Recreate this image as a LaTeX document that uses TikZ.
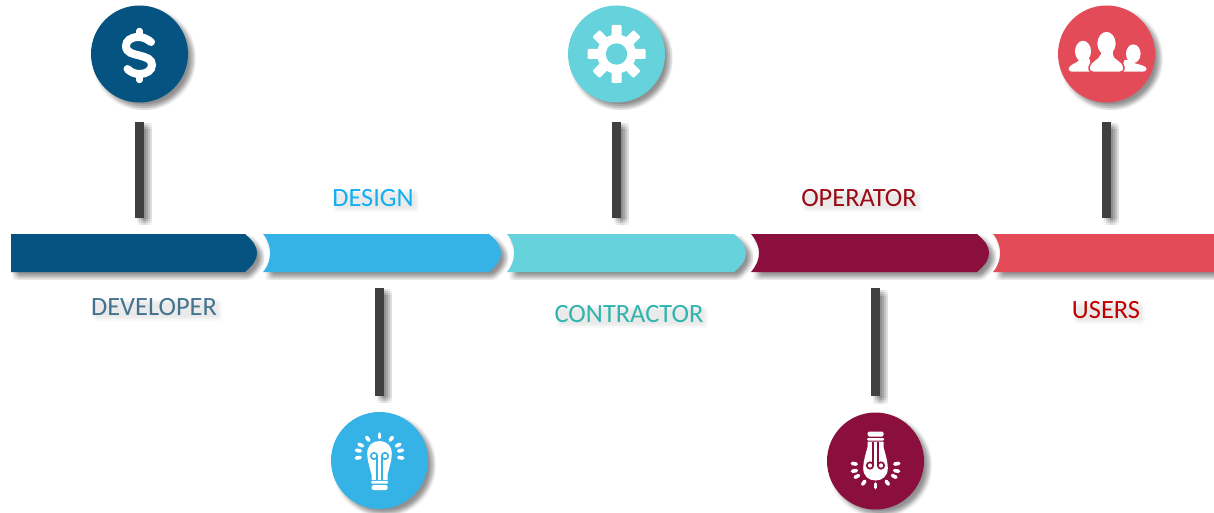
\documentclass[tikz,border=0pt]{standalone}
\usepackage{fontspec}
\setmainfont{Carlito}
\usetikzlibrary{positioning}
\definecolor{devblue}{HTML}{055380}
\definecolor{designblue}{HTML}{35B2E6}
\definecolor{contrteal}{HTML}{65D2DC}
\definecolor{opermaroon}{HTML}{8B0F3C}
\definecolor{usersred}{HTML}{E34B59}
\definecolor{stemgrey}{HTML}{404040}
\definecolor{devtext}{HTML}{44738F}
\definecolor{designtext}{HTML}{12B0F0}
\definecolor{contrtext}{HTML}{2FB5AE}
\definecolor{opertext}{HTML}{9A0A14}
\definecolor{userstext}{HTML}{C00000}
\tikzset{
  shadecopy/.style 2 args={preaction={fill=black,opacity=0.035,transform canvas={shift={(#1pt,-#2pt)}}}},
  shaderow/.style={shadecopy={1.5}{#1},shadecopy={3.5}{#1},shadecopy={5.5}{#1},shadecopy={7.5}{#1}},
  softshadow/.style={shaderow=1.5,shaderow=3.5,shaderow=5.5,shaderow=7.5},
  smudge/.style 2 args={preaction={fill=black,opacity=0.012,transform canvas={shift={(#1pt,-#2pt)}}}},
  iconcircle/.style={circle,minimum size=97pt,inner sep=0pt,softshadow},
  stem/.style={rectangle,fill=stemgrey,minimum width=9pt,inner sep=0pt,softshadow},
  stemlong/.style={stem,minimum height=108pt},
  stemshort/.style={stem,minimum height=96pt},
  segment/.style={softshadow},
  tag/.style={font=\fontsize{26.4}{26.4}\selectfont,inner sep=0pt,smudge={1}{1},smudge={3}{1},smudge={1}{3},smudge={3}{3},smudge={5}{3},smudge={3}{5},smudge={5}{5}},
  ray/.style={white,line width=3.6pt,line cap=round},
}
% light bulb, base towards +y; #1 is the colour behind it
\newcommand{\bulbicon}[1]{
  \fill [white] (-8,19.5) -- (-8,14) .. controls (-9.5,8) and (-12.3,0) .. (-12.3,-7) .. controls (-12.3,-15) and (-7,-19.5) .. (0,-19.5) .. controls (7,-19.5) and (12.3,-15) .. (12.3,-7) .. controls (12.3,0) and (9.5,8) .. (8,14) -- (8,19.5) -- cycle;
  \draw [#1,line width=1.7pt] (-2.3,19.5) -- (-2.3,-4.5);
  \draw [#1,line width=1.7pt] (2.3,19.5) -- (2.3,-4.5);
  \draw [#1,line width=1.7pt] (-5.5,-4.5) circle (3.2);
  \draw [#1,line width=1.7pt] (5.5,-4.5) circle (3.2);
  \fill [white,rounded corners=1pt] (-8.5,20.5) rectangle (8.5,23);
  \fill [white,rounded corners=1.5pt] (-8,24.5) rectangle (8,29.5);
  \foreach \a in {-90,-57,-123,-30,-150,-12,-168,10,170}
    \draw [ray,shift={(0,-6)},xscale=1.15] (\a:17) -- (\a:20.5);
}
\begin{document}
\begin{tikzpicture}[x=1pt,y=-1pt]
\useasboundingbox (0,0) rectangle (1214,513);
% the band
\fill [segment,devblue] (11,234) -- (245,234) .. controls (253,241) and (257,246) .. (257,253) .. controls (257,260) and (253,265) .. (245,272) -- (11,272) -- cycle;
\fill [segment,designblue] (263,234) -- (489,234) .. controls (497,241) and (501,246) .. (501,253) .. controls (501,260) and (497,265) .. (489,272) -- (263,272) .. controls (268,266) and (270,260) .. (270,253) .. controls (270,246) and (268,240) .. (263,234) -- cycle;
\fill [segment,contrteal] (507,234) -- (734,234) .. controls (742,241) and (746,246) .. (746,253) .. controls (746,260) and (742,265) .. (734,272) -- (507,272) .. controls (512,266) and (514,260) .. (514,253) .. controls (514,246) and (512,240) .. (507,234) -- cycle;
\fill [segment,opermaroon] (751,234) -- (977,234) .. controls (985,241) and (989,246) .. (989,253) .. controls (989,260) and (985,265) .. (977,272) -- (751,272) .. controls (756,266) and (759,260) .. (759,253) .. controls (759,246) and (756,240) .. (751,234) -- cycle;
\fill [segment,usersred] (993,234) -- (1214,234) -- (1214,272) -- (993,272) .. controls (998,266) and (1000,260) .. (1000,253) .. controls (1000,246) and (998,240) .. (993,234) -- cycle;
% circles and stems
\node [iconcircle,fill=devblue] (devicon) at (139.5,54) {};
\node [iconcircle,fill=contrteal] (contricon) at (616.5,54) {};
\node [iconcircle,fill=usersred] (usersicon) at (1106.5,54) {};
\node [iconcircle,fill=designblue] (designicon) at (379.5,460.5) {};
\node [iconcircle,fill=opermaroon] (opericon) at (875.5,461) {};
\node [stemshort,below=19pt of devicon] (devstem) {};
\node [stemshort,below=19pt of contricon] (contrstem) {};
\node [stemshort,below=19pt of usersicon] (usersstem) {};
\node [stemlong,above=16pt of designicon] (designstem) {};
\node [stemlong,above=16pt of opericon] (operstem) {};
% dollar
\begin{scope}[shift={(devicon.center)}]
\draw [white,line width=8pt,line cap=round] (11.5,-12) .. controls (7,-15.5) and (3,-17) .. (-1,-17) .. controls (-9,-17) and (-13.5,-13) .. (-13.5,-8) .. controls (-13.5,-1) and (-6,0) .. (0,1.5) .. controls (7,3.5) and (12.5,5) .. (12.5,11) .. controls (12.5,16.5) and (7,20) .. (0,20) .. controls (-5,20) and (-9,18) .. (-12,15);
\draw [white,line width=6.5pt,line cap=round] (0,-23) -- (0,-19);
\draw [white,line width=6.5pt,line cap=round] (0,22) -- (0,26);
\end{scope}
% gear
\begin{scope}[shift={(contricon.center)}]
\fill [white] (0,0) circle (19.5);
\foreach \a in {0,45,...,315}
  \fill [white,rotate=\a,rounded corners=1pt] (-5,-29) rectangle (5,-15);
\fill [contrteal] (0,0) circle (10.7);
\end{scope}
% people
\begin{scope}[shift={(usersicon.center)}]
\fill [white] (-23.5,-2.7) ellipse (8 and 10.5);
\fill [white] (-27,5) .. controls (-27,9) and (-38,10) .. (-38,15) .. controls (-38,17) and (-36,17.7) .. (-34,17.7) -- (-14,17.7) -- (-17,5) -- cycle;
\fill [white] (26.8,-0.3) ellipse (7.3 and 9.3);
\fill [white] (23,6) .. controls (23,10) and (40,10) .. (40,15) .. controls (40,17) and (38,17.7) .. (36,17.7) -- (14,17.7) -- (18,6) -- cycle;
\draw [usersred,fill=white,line width=1.5pt] (-7,0) .. controls (-7,5) and (-17,7) .. (-17.5,13) .. controls (-18,17) and (-15,18.5) .. (-13,18.5) -- (13,18.5) .. controls (15,18.5) and (18,17) .. (17.5,13) .. controls (17,7) and (7,5) .. (7,0) -- cycle;
\draw [usersred,fill=white,line width=1.5pt] (0,-10.5) ellipse (10 and 12.5);
\fill [white] (-6,-3) rectangle (6,7);
\end{scope}
% bulbs
\begin{scope}[shift={(designicon.center)}]
\bulbicon{designblue}
\end{scope}
\begin{scope}[shift={(opericon.center)},yscale=-1]
\bulbicon{opermaroon}
\end{scope}
% labels
\node [tag,text=devtext] (devlabel) at (154,307) {DEVELOPER};
\node [tag,text=designtext] (designlabel) at (373,198) {DESIGN};
\node [tag,text=contrtext] (contrlabel) at (629,314) {CONTRACTOR};
\node [tag,text=opertext] (operlabel) at (859,198) {OPERATOR};
\node [tag,text=userstext] (userslabel) at (1106,310) {USERS};
\end{tikzpicture}
\end{document}
